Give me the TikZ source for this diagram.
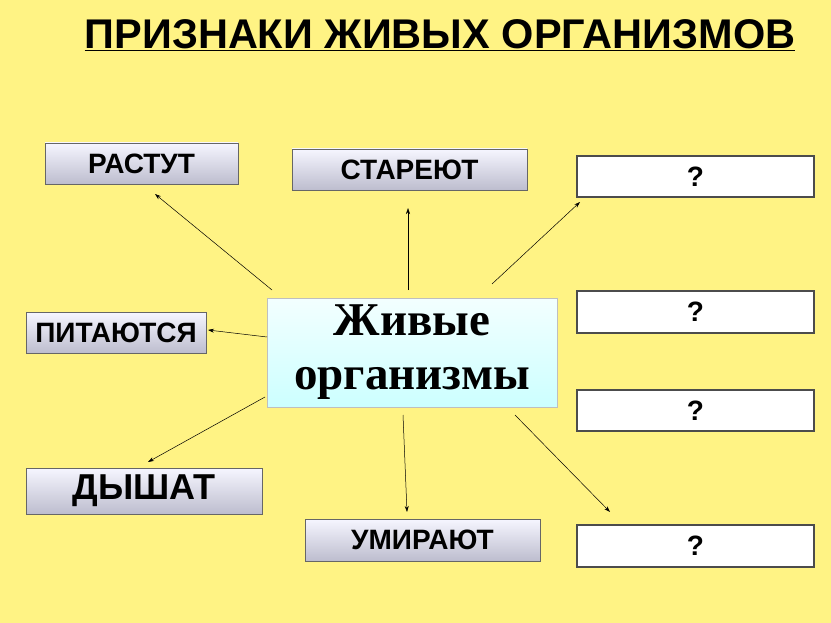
\documentclass[tikz,border=0pt]{standalone}
\usepackage{fontspec}
\usetikzlibrary{arrows.meta}
\setmainfont{Liberation Sans}
\newfontfamily\serifb{Liberation Serif}
\begin{document}
\begin{tikzpicture}[x=1pt,y=-1pt,
  lab/.style={draw=gray!80!black,line width=0.8pt,top color=white!70!blue!12,bottom color=blue!15!gray!45,font=\fontsize{28}{32}\selectfont\bfseries,inner sep=0pt},
  qbox/.style={draw=gray!60!black,line width=1.2pt,fill=white,font=\fontsize{28}{32}\selectfont\bfseries,inner sep=0pt},
  arr/.style={-{Stealth[length=6pt,width=4pt]},line width=0.5pt}]
\fill[yellow!45!white!95!orange] (0,0) rectangle (831,623);
\useasboundingbox (0,0) rectangle (831,623);
\node[font=\fontsize{41.5}{46}\selectfont\bfseries] (title) at (440,35) {\underline{ПРИЗНАКИ ЖИВЫХ ОРГАНИЗМОВ}};
\node[lab,minimum width=193,minimum height=41] (rast) at (141.5,163.5) {РАСТУТ};
\node[lab,minimum width=235,minimum height=41] (star) at (409.5,169.5) {СТАРЕЮТ};
\node[lab,minimum width=180,minimum height=41] (pit) at (116,332.5) {ПИТАЮТСЯ};
\node[lab,minimum width=236,minimum height=46,font=\fontsize{36}{40}\selectfont\bfseries] (dysh) at (144,491) {ДЫШАТ};
\node[lab,minimum width=235,minimum height=42] (umir) at (422.5,540) {УМИРАЮТ};
\node[qbox,minimum width=237,minimum height=41] (q1) at (695.5,176.5) {?};
\node[qbox,minimum width=237,minimum height=42] (q2) at (695.5,312) {?};
\node[qbox,minimum width=237,minimum height=41] (q3) at (695.5,410.5) {?};
\node[qbox,minimum width=237,minimum height=42] (q4) at (695.5,546) {?};
\node[draw=gray!50,line width=0.6pt,top color=white!60!cyan!12,bottom color=cyan!20!white,minimum width=290,minimum height=109,align=center,inner sep=0pt,
  font=\serifb\fontsize{47}{54}\selectfont\bfseries] (c) at (412,352.5) {Живые\\организмы};
\coordinate (s1) at (272,290); \coordinate (e1) at (155,194);
\coordinate (s2) at (408,290); \coordinate (e2) at (408,208);
\coordinate (s3) at (492,284); \coordinate (e3) at (580,202);
\coordinate (s4) at (267,337); \coordinate (e4) at (208,330);
\coordinate (s5) at (265,397); \coordinate (e5) at (148,462);
\coordinate (s6) at (403,415); \coordinate (e6) at (407,512);
\coordinate (s7) at (515,415); \coordinate (e7) at (610,512);
\foreach \i in {1,...,7} \draw[arr] (s\i) -- (e\i);
\end{tikzpicture}
\end{document}
